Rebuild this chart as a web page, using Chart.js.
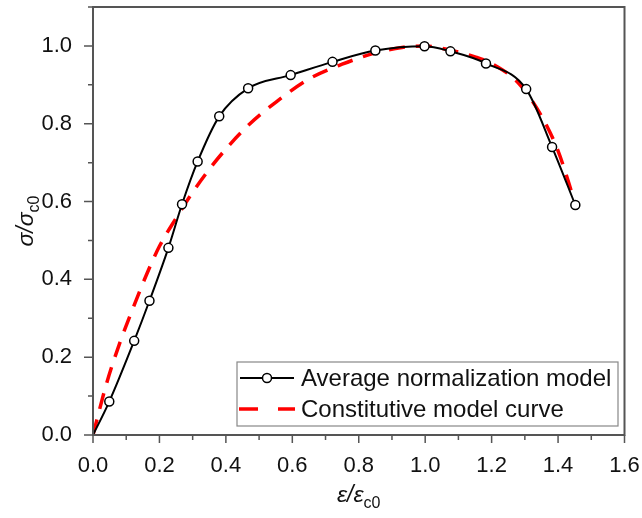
<!DOCTYPE html>
<html>
<head>
<meta charset="utf-8">
<script src="https://cdn.jsdelivr.net/npm/chart.js@4.4.1/dist/chart.umd.min.js"></script>
<style>
  html, body { margin: 0; padding: 0; background: #ffffff; }
  #c { display: block; }
</style>
</head>
<body>
<canvas id="c" width="642" height="518"></canvas>
<script>
// ---- data ----
const avgStrain = [0, 0.049, 0.124, 0.170, 0.227, 0.268, 0.315, 0.380, 0.467, 0.595, 0.721, 0.850, 0.998, 1.076, 1.183, 1.304, 1.382, 1.452];
const avgStress = [0, 0.086, 0.242, 0.345, 0.481, 0.593, 0.703, 0.819, 0.891, 0.925, 0.959, 0.988, 0.999, 0.986, 0.955, 0.889, 0.740, 0.591];

const modelStrain = [0, 0.04, 0.08, 0.12, 0.16, 0.20, 0.25, 0.30, 0.35, 0.40, 0.47, 0.55, 0.65, 0.75, 0.85, 0.93, 1.00, 1.07, 1.15, 1.20, 1.28, 1.35, 1.40, 1.45];
const modelStress = [0, 0.13, 0.235, 0.325, 0.41, 0.485, 0.557, 0.624, 0.683, 0.735, 0.798, 0.855, 0.915, 0.953, 0.982, 0.996, 1.000, 0.990, 0.972, 0.955, 0.905, 0.820, 0.730, 0.600];

const seriesLabels = ['Average normalization model', 'Constitutive model curve'];
const xTickLabels = ['0.0', '0.2', '0.4', '0.6', '0.8', '1.0', '1.2', '1.4', '1.6'];
const yTickLabels = ['0.0', '0.2', '0.4', '0.6', '0.8', '1.0'];
const xTitleMain = 'ε/ε', xTitleSub = 'c0';
const yTitleMain = 'σ/σ', yTitleSub = 'c0';

const avgPoints = avgStrain.map((x, i) => ({ x: x, y: avgStress[i] }));
const modelPoints = modelStrain.map((x, i) => ({ x: x, y: modelStress[i] }));

const FONT = '"Liberation Sans", Arial, sans-serif';
const AXIS_COLOR = '#555555';

function fmtTick(labels, v) {
  const k = Math.round(v * 10);
  if (k % 2 !== 0) return '';
  const s = v.toFixed(1);
  return labels.indexOf(s) >= 0 ? s : '';
}

const decorPlugin = {
  id: 'decor',
  afterDraw(chart) {
    const ctx = chart.ctx;
    const a = chart.chartArea;
    const xs = chart.scales.x, ys = chart.scales.y;
    ctx.save();
    // frame
    ctx.strokeStyle = AXIS_COLOR;
    ctx.lineWidth = 2;
    ctx.strokeRect(a.left, a.top, a.right - a.left, a.bottom - a.top);
    // ticks
    ctx.lineWidth = 1.5;
    ctx.beginPath();
    for (let k = 0; k <= 16; k++) {
      const px = xs.getPixelForValue(k / 10);
      const len = (k % 2 === 0) ? 8 : 5;
      ctx.moveTo(px, a.bottom);
      ctx.lineTo(px, a.bottom + len);
    }
    for (let k = 0; k <= 11; k++) {
      const py = ys.getPixelForValue(k / 10);
      const len = (k % 2 === 0) ? 9 : 5;
      ctx.moveTo(a.left, py);
      ctx.lineTo(a.left - len, py);
    }
    ctx.stroke();

    // axis titles
    ctx.fillStyle = '#111111';
    ctx.textBaseline = 'alphabetic';
    ctx.font = 'italic 23px ' + FONT;
    const wMain = ctx.measureText(xTitleMain).width;
    ctx.font = '16px ' + FONT;
    const wSub = ctx.measureText(xTitleSub).width;
    const cx = (a.left + a.right) / 2;
    let x0 = cx - (wMain + wSub) / 2;
    ctx.font = 'italic 23px ' + FONT;
    ctx.textAlign = 'left';
    ctx.fillText(xTitleMain, x0, 502);
    ctx.font = '16px ' + FONT;
    ctx.fillText(xTitleSub, x0 + wMain, 508);

    ctx.save();
    const cy = (a.top + a.bottom) / 2;
    ctx.translate(33, cy);
    ctx.rotate(-Math.PI / 2);
    ctx.font = 'italic 23px ' + FONT;
    const ywMain = ctx.measureText(yTitleMain).width;
    ctx.font = '16px ' + FONT;
    const ywSub = ctx.measureText(yTitleSub).width;
    const y0 = -(ywMain + ywSub) / 2;
    ctx.font = 'italic 23px ' + FONT;
    ctx.fillText(yTitleMain, y0, 0);
    ctx.font = '16px ' + FONT;
    ctx.fillText(yTitleSub, y0 + ywMain, 6);
    ctx.restore();

    // legend
    const lx = 237, ly = 362, lw = 381, lh = 64;
    ctx.fillStyle = '#ffffff';
    ctx.fillRect(lx, ly, lw, lh);
    ctx.strokeStyle = '#888888';
    ctx.lineWidth = 1.2;
    ctx.strokeRect(lx, ly, lw, lh);
    const r1 = 378, r2 = 409;
    ctx.strokeStyle = '#000000';
    ctx.lineWidth = 2;
    ctx.beginPath();
    ctx.moveTo(240, r1); ctx.lineTo(294, r1);
    ctx.stroke();
    ctx.beginPath();
    ctx.arc(267, r1, 4.5, 0, Math.PI * 2);
    ctx.fillStyle = '#ffffff';
    ctx.fill();
    ctx.lineWidth = 1.5;
    ctx.stroke();
    ctx.strokeStyle = '#ff0000';
    ctx.lineWidth = 3.5;
    ctx.beginPath();
    ctx.moveTo(239, r2); ctx.lineTo(258, r2);
    ctx.moveTo(278, r2); ctx.lineTo(295, r2);
    ctx.stroke();
    ctx.fillStyle = '#111111';
    ctx.font = '24px ' + FONT;
    ctx.textBaseline = 'middle';
    ctx.textAlign = 'left';
    ctx.fillText(chart.data.datasets[0].label, 301, r1 + 1);
    ctx.fillText(chart.data.datasets[1].label, 301, r2 + 1);
    ctx.restore();
  }
};

new Chart(document.getElementById('c'), {
  type: 'scatter',
  data: {
    datasets: [
      {
        label: seriesLabels[0],
        data: avgPoints,
        showLine: true,
        borderColor: '#000000',
        borderWidth: 2,
        cubicInterpolationMode: 'monotone',
        pointRadius: avgPoints.map((p, i) => i === 0 ? 0 : 4.5),
        pointBackgroundColor: '#ffffff',
        pointBorderColor: '#000000',
        pointBorderWidth: 1.5,
        order: 0
      },
      {
        label: seriesLabels[1],
        data: modelPoints,
        showLine: true,
        borderColor: '#ff0000',
        borderWidth: 3.5,
        borderDash: [16, 11],
        cubicInterpolationMode: 'monotone',
        pointRadius: 0,
        order: 1
      }
    ]
  },
  options: {
    responsive: false,
    animation: false,
    devicePixelRatio: 1,
    layout: { padding: { top: 7, right: 17.5, left: 0, bottom: 0 } },
    plugins: { legend: { display: false }, tooltip: { enabled: false } },
    scales: {
      x: {
        type: 'linear',
        min: 0, max: 1.6,
        grid: { display: false },
        border: { display: false },
        ticks: {
          stepSize: 0.1,
          autoSkip: false,
          maxRotation: 0,
          padding: 10,
          color: '#111111',
          font: { family: FONT, size: 22 },
          callback: (v) => fmtTick(xTickLabels, v)
        },
        afterFit: (s) => { s.height = 83; s.paddingLeft = 0; s.paddingRight = 0; }
      },
      y: {
        type: 'linear',
        min: 0, max: 1.1,
        grid: { display: false },
        border: { display: false },
        ticks: {
          stepSize: 0.1,
          autoSkip: false,
          padding: 13,
          color: '#111111',
          font: { family: FONT, size: 22 },
          callback: (v) => fmtTick(yTickLabels, v)
        },
        afterFit: (s) => { s.width = 93; s.paddingTop = 0; s.paddingBottom = 0; }
      }
    }
  },
  plugins: [decorPlugin]
});
</script>
</body>
</html>
